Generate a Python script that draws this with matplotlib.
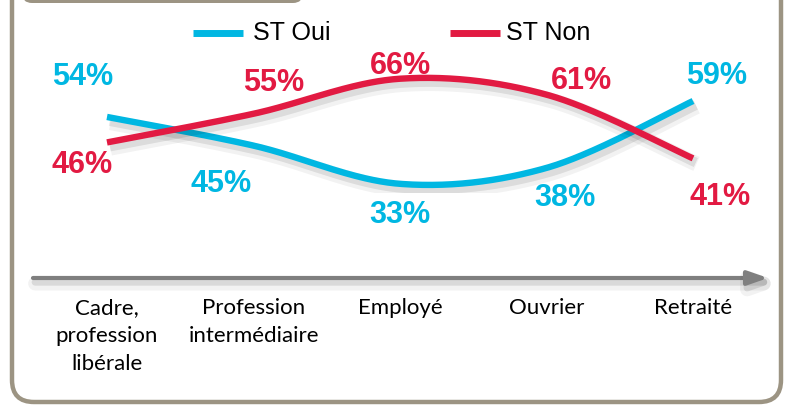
import numpy as np
import matplotlib
matplotlib.use("Agg")
import matplotlib.pyplot as plt
import matplotlib.patheffects as pe
from matplotlib.patches import FancyBboxPatch
from matplotlib import transforms

# données
categories = ["Cadre,\nprofession\nlibérale", "Profession\nintermédiaire",
              "Employé", "Ouvrier", "Retraité"]
st_oui = [54, 45, 33, 38, 59]
st_non = [46, 55, 66, 61, 41]
series_names = ["ST Oui", "ST Non"]

BLUE = "#00B7E2"
RED = "#E21A42"
FRAME = "#9C9483"
ARROW = "#7F7F7F"

# décalage des étiquettes (pixels) par rapport au point
oui_offsets = [(-24, 40), (-32, -38), (0, -31), (18, -30), (24, 25)]
non_offsets = [(-25, -23), (20, 31), (0, 13), (35, 14), (27, -39)]


def smooth(xs, ys, n=60):
    # courbe lissée type Excel (Catmull-Rom)
    xs = np.asarray(xs, float)
    ys = np.asarray(ys, float)
    px = np.concatenate([[xs[0]], xs, [xs[-1]]])
    py = np.concatenate([[ys[0]], ys, [ys[-1]]])
    outx, outy = [], []
    t = np.linspace(0, 1, n)
    for i in range(1, len(px) - 2):
        p0, p1, p2, p3 = px[i - 1], px[i], px[i + 1], px[i + 2]
        q0, q1, q2, q3 = py[i - 1], py[i], py[i + 1], py[i + 2]
        def cr(a, b, c, d):
            return 0.5 * (2 * b + (-a + c) * t + (2 * a - 5 * b + 4 * c - d) * t ** 2
                          + (-a + 3 * b - 3 * c + d) * t ** 3)
        outx.extend(cr(p0, p1, p2, p3))
        outy.extend(cr(q0, q1, q2, q3))
    return np.array(outx), np.array(outy)


W, H = 788, 405
fig = plt.figure(figsize=(W / 100, H / 100), dpi=100)

# fond en pixels
bg = fig.add_axes([0, 0, 1, 1], zorder=0)
bg.set_xlim(0, W)
bg.set_ylim(H, 0)
bg.axis("off")

frame = FancyBboxPatch((12, -60), 769, 462, boxstyle="round,pad=0,rounding_size=22",
                       fill=False, ec=FRAME, lw=3.2)
bg.add_patch(frame)
tab = FancyBboxPatch((22, -40), 281, 43, boxstyle="round,pad=0,rounding_size=10",
                     fc=FRAME, ec="none")
bg.add_patch(tab)

shadow_fx = [pe.SimpleLineShadow(offset=(1.5, -4), shadow_color="k", alpha=0.05, linewidth=10),
             pe.SimpleLineShadow(offset=(1.5, -3), shadow_color="k", alpha=0.10, linewidth=5),
             pe.Normal()]

# flèche de l'axe
bg.annotate("", xy=(768, 278), xytext=(33, 278),
            arrowprops=dict(arrowstyle="-|>,head_length=0.8,head_width=0.28",
                            color=ARROW, lw=3, mutation_scale=15, shrinkA=0, shrinkB=0,
                            path_effects=shadow_fx))

# légende
for (x0, x1, tx), name, col in zip([(193, 243, 253), (450, 500, 506)], series_names, [BLUE, RED]):
    bg.plot([x0, x1], [33, 33], color=col, lw=5, solid_capstyle="butt")
    bg.text(tx, 33, name, fontsize=18, family="Liberation Sans", va="center", ha="left")

# axe des données
ax = fig.add_axes([0.04283, 0.5225, 0.9296, 0.3146], zorder=2)
ax.set_xlim(-0.5, 4.5)
ax.set_ylim(30, 70)
ax.patch.set_alpha(0)
ax.axis("off")

x = np.arange(len(categories))
line_fx = [pe.SimpleLineShadow(offset=(2.5, -4), shadow_color="k", alpha=0.05, linewidth=11),
           pe.SimpleLineShadow(offset=(2, -3), shadow_color="k", alpha=0.09, linewidth=7),
           pe.Normal()]
for vals, col, z in [(st_oui, BLUE, 3), (st_non, RED, 4)]:
    sx, sy = smooth(x, vals)
    ax.plot(sx, sy, color=col, lw=4.6, solid_capstyle="butt", zorder=z, path_effects=line_fx)

for vals, offs, col in [(st_oui, oui_offsets, BLUE), (st_non, non_offsets, RED)]:
    for xi, v, (dx, dy) in zip(x, vals, offs):
        ax.annotate(f"{v}%", (xi, v), xytext=(dx, dy), textcoords="offset pixels",
                    ha="center", va="center", fontsize=22, fontweight="bold",
                    family="Liberation Sans", color=col, zorder=6)

# libellés des catégories
trans = transforms.blended_transform_factory(ax.transData, bg.transData)
for xi, lab in zip(x, categories):
    bg.text(xi, 298, lab, transform=trans, ha="center", va="top", fontsize=16,
            family="Lato", linespacing=1.5)

fig.savefig("out.png", dpi=100)
